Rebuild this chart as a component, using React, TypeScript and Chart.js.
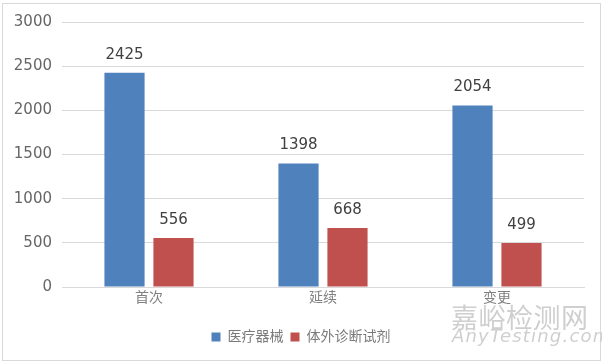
import React, { useEffect, useRef } from "react";
import { Chart, registerables } from "chart.js";

Chart.register(...registerables);

const categories = ["首次", "延续", "变更"];
const seriesNames = ["医疗器械", "体外诊断试剂"];
const medicalDevices = [2425, 1398, 2054];
const ivdReagents = [556, 668, 499];
const yTicks = [0, 500, 1000, 1500, 2000, 2500, 3000];

const FONT = "'DejaVu Sans', 'Noto Sans CJK SC', sans-serif";

const valueLabels = {
  id: "valueLabels",
  afterDatasetsDraw(chart: any) {
    const ctx = chart.ctx;
    ctx.save();
    ctx.font = `15px ${FONT}`;
    ctx.fillStyle = "#404040";
    ctx.textAlign = "center";
    ctx.textBaseline = "middle";
    chart.data.datasets.forEach((ds: any, di: number) => {
      const meta = chart.getDatasetMeta(di);
      meta.data.forEach((bar: any, i: number) => {
        ctx.fillText(String(ds.data[i]), bar.x, bar.y - 18);
      });
    });
    ctx.restore();
  },
};

export default function App() {
  const ref = useRef<HTMLCanvasElement>(null);
  useEffect(() => {
    if (!ref.current) return;
    const chart = new Chart(ref.current, {
      type: "bar",
      data: {
        labels: categories,
        datasets: [
          {
            label: seriesNames[0],
            data: medicalDevices,
            backgroundColor: "#4F81BD",
            barPercentage: 0.82,
            categoryPercentage: 0.563,
          },
          {
            label: seriesNames[1],
            data: ivdReagents,
            backgroundColor: "#C0504D",
            barPercentage: 0.82,
            categoryPercentage: 0.563,
          },
        ],
      },
      options: {
        animation: false,
        responsive: false,
        maintainAspectRatio: false,
        layout: { padding: { top: 22, right: 0, bottom: 8, left: 0 } },
        scales: {
          x: {
            grid: { display: false, drawTicks: false },
            border: { display: true, color: "#d9d9d9" },
            ticks: {
              color: "#808080",
              font: { family: FONT, size: 14 },
              padding: 3,
            },
            afterFit(scale: any) {
              scale.height = 36;
            },
          },
          y: {
            min: 0,
            max: 3000,
            afterBuildTicks(scale: any) {
              scale.ticks = yTicks.map((v) => ({ value: v }));
            },
            grid: { color: "#d9d9d9", drawTicks: false },
            border: { display: false },
            ticks: {
              color: "#666666",
              font: { family: FONT, size: 15 },
              padding: 10,
              callback: (v: any) => String(v),
            },
            afterFit(scale: any) {
              scale.width = 62;
            },
          },
          yRight: {
            position: "right",
            min: 0,
            max: 3000,
            grid: { display: false, drawTicks: false },
            border: { display: false },
            ticks: { display: false },
            afterFit(scale: any) {
              scale.width = 18;
            },
          },
        },
        plugins: {
          legend: {
            position: "bottom",
            labels: {
              color: "#7a7a7a",
              font: { family: FONT, size: 14 },
              boxWidth: 9,
              boxHeight: 9,
              padding: 7,
            },
          },
          tooltip: { enabled: false },
        },
      },
      plugins: [valueLabels],
    });
    return () => chart.destroy();
  }, []);

  return (
    <div style={{ position: "fixed", left: 0, top: 0, width: 602, height: 362, background: "#fff", overflow: "hidden" }}>
      <canvas ref={ref} width={602} height={362} style={{ position: "absolute", left: 0, top: 0 }} />
      <div style={{ position: "absolute", left: 2, top: 3, width: 597, height: 356, border: "1px solid #d9d9d9", pointerEvents: "none" }} />
      <div style={{ position: "absolute", left: 451, top: 300, fontFamily: "'Noto Sans CJK SC', sans-serif", fontSize: 27, color: "#cfcfcf", whiteSpace: "nowrap", lineHeight: "34px", letterSpacing: 0.5 }}>
        嘉峪检测网
      </div>
      <div style={{ position: "absolute", left: 452, top: 326, fontFamily: "'DejaVu Sans', sans-serif", fontStyle: "italic", fontSize: 18, color: "#cfcfcf", whiteSpace: "nowrap", lineHeight: "20px", letterSpacing: 1.2 }}>
        AnyTesting.com
      </div>
    </div>
  );
}
